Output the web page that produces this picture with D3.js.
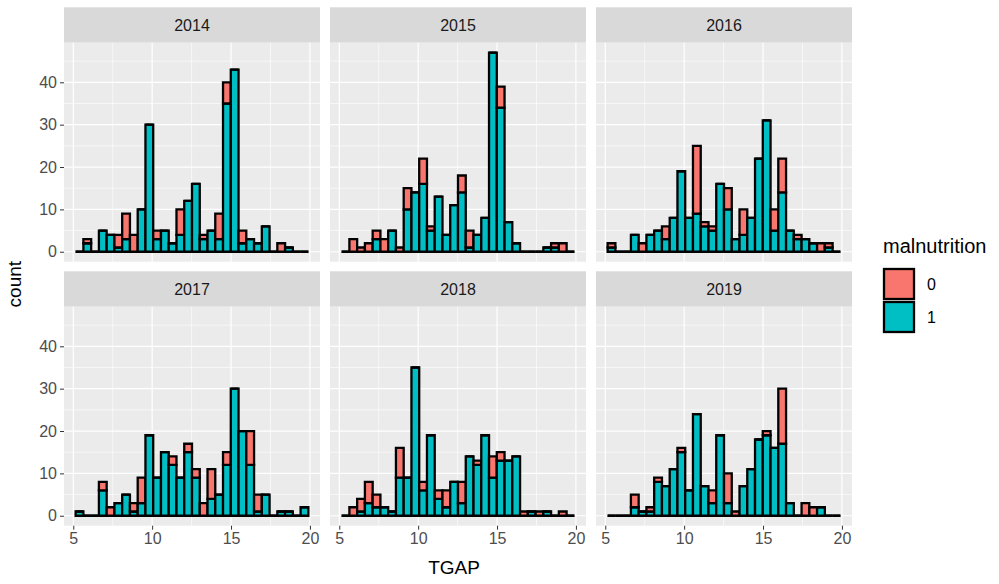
<!DOCTYPE html>
<html>
<head>
<meta charset="utf-8">
<script src="https://cdn.jsdelivr.net/npm/d3@7"></script>
<style>
    body { margin: 0; background: #fff; }
    text { font-family: "Liberation Sans", Arial, sans-serif; }
</style>
</head>
<body>
<div id="chart-container"></div>
<script>
// facet years
const years = ['2014', '2015', '2016', '2017', '2018', '2019'];

// histogram bins (30 bins, ggplot default)
const binStart = 5.15;
const binWidth = 0.4917;

// counts per bin, malnutrition = 1
const teal2014 = [0,2,0,5,4,1,3,0,10,30,3,5,2,4,12,16,3,5,3,35,43,2,3,2,6,0,0,1,0,0];
const teal2015 = [0,0,0,0,3,0,5,0,10,14,16,5,13,4,11,14,1,4,8,47,34,7,2,0,0,0,1,1,0,0];
const teal2016 = [1,0,0,4,0,4,5,3,8,19,8,9,6,5,16,10,3,4,8,22,31,5,14,5,3,3,2,0,1,0];
const teal2017 = [1,0,0,6,0,3,5,1,3,19,9,15,12,9,15,9,0,4,5,12,30,20,12,1,5,0,1,1,0,2];
const teal2018 = [0,0,1,3,2,2,1,9,9,35,6,19,4,2,8,3,14,12,19,9,13,13,14,0,1,0,1,0,0,0];
const teal2019 = [0,0,0,2,1,1,8,7,11,15,6,24,7,3,19,3,0,7,11,18,19,16,17,3,0,0,0,2,0,0];

// counts per bin, malnutrition = 0
const red2014 = [0,1,0,0,0,3,6,4,0,0,2,0,0,6,0,0,1,0,6,5,0,3,0,0,0,0,2,0,0,0];
const red2015 = [0,3,1,2,2,3,0,1,5,0,6,1,0,0,0,4,4,0,0,0,5,0,0,0,0,0,0,1,2,0];
const red2016 = [1,0,0,0,2,0,0,3,0,0,0,16,1,1,0,5,0,6,0,0,0,5,8,0,1,0,0,2,1,0];
const red2017 = [0,0,0,2,2,0,0,2,6,0,0,0,2,0,2,2,3,7,0,3,0,0,8,4,0,0,0,0,0,0];
const red2018 = [0,2,3,5,3,0,0,7,0,0,2,0,2,4,0,5,0,1,0,5,2,0,0,1,0,1,0,0,1,0];
const red2019 = [0,0,0,3,0,1,1,0,0,1,0,0,0,3,0,7,1,0,0,0,1,0,13,0,0,3,2,0,0,0];

const xTicks = [5, 10, 15, 20];
const xMinor = [7.5, 12.5, 17.5];
const yTicks = [0, 10, 20, 30, 40];
const yMinor = [5, 15, 25, 35, 45];
const legendLabels = ['0', '1'];

const tealSets = [teal2014, teal2015, teal2016, teal2017, teal2018, teal2019];
const redSets = [red2014, red2015, red2016, red2017, red2018, red2019];

const w = 999;
const h = 584;
const panelW = 256;
const panelH = 219;
const stripH = 35.4;
const colX = [64, 330, 596];
const rowY = [42.7, 306.7];
const fills = { '0': '#F8766D', '1': '#00BFC4' };
const outline = 2.3;

const svg = d3.select('#chart-container')
    .append('svg')
    .attr('width', w)
    .attr('height', h)
    .style('background-color', '#fff');

const binEnd = binStart + binWidth * 30;
const pad = (binEnd - binStart) * 0.05;
const xScale = d3.scaleLinear()
    .domain([binStart - pad, binEnd + pad])
    .range([0, panelW]);

const yScale = d3.scaleLinear()
    .domain([-2.35, 49.35])
    .range([panelH, 0]);

// rect as a path so zero-height bins still draw their outline
const boxPath = (x0, x1, lo, hi) =>
    `M${xScale(x0)},${yScale(lo)}H${xScale(x1)}V${yScale(hi)}H${xScale(x0)}Z`;

years.forEach((year, p) => {
    const col = p % 3;
    const row = Math.floor(p / 3);
    const g = svg.append('g')
        .attr('transform', `translate(${colX[col]},${rowY[row]})`);

    // strip
    g.append('rect')
        .attr('x', 0).attr('y', -stripH)
        .attr('width', panelW).attr('height', stripH)
        .attr('fill', '#D9D9D9');
    g.append('text')
        .attr('x', panelW / 2).attr('y', -stripH / 2)
        .attr('text-anchor', 'middle')
        .attr('dominant-baseline', 'central')
        .attr('font-size', 16)
        .attr('fill', '#1A1A1A')
        .text(year);

    // panel background + grid
    g.append('rect')
        .attr('width', panelW).attr('height', panelH)
        .attr('fill', '#EBEBEB');

    g.selectAll('.ymin').data(yMinor).enter().append('line')
        .attr('x1', 0).attr('x2', panelW)
        .attr('y1', d => yScale(d)).attr('y2', d => yScale(d))
        .attr('stroke', '#fff').attr('stroke-width', 0.6);
    g.selectAll('.xmin').data(xMinor).enter().append('line')
        .attr('y1', 0).attr('y2', panelH)
        .attr('x1', d => xScale(d)).attr('x2', d => xScale(d))
        .attr('stroke', '#fff').attr('stroke-width', 0.6);
    g.selectAll('.ymaj').data(yTicks).enter().append('line')
        .attr('x1', 0).attr('x2', panelW)
        .attr('y1', d => yScale(d)).attr('y2', d => yScale(d))
        .attr('stroke', '#fff').attr('stroke-width', 1.2);
    g.selectAll('.xmaj').data(xTicks).enter().append('line')
        .attr('y1', 0).attr('y2', panelH)
        .attr('x1', d => xScale(d)).attr('x2', d => xScale(d))
        .attr('stroke', '#fff').attr('stroke-width', 1.2);

    // stacked bars: 1 at bottom, 0 on top
    const bins = tealSets[p].map((t, i) => ({
        x0: binStart + i * binWidth,
        x1: binStart + (i + 1) * binWidth,
        teal: t,
        red: redSets[p][i]
    }));

    const bar = g.selectAll('.bin').data(bins).enter().append('g');
    bar.append('path')
        .attr('d', d => boxPath(d.x0, d.x1, 0, d.teal))
        .attr('fill', fills['1'])
        .attr('stroke', '#000').attr('stroke-width', outline)
        .attr('stroke-linejoin', 'miter');
    bar.append('path')
        .attr('d', d => boxPath(d.x0, d.x1, d.teal, d.teal + d.red))
        .attr('fill', fills['0'])
        .attr('stroke', '#000').attr('stroke-width', outline)
        .attr('stroke-linejoin', 'miter');

    // y axis on first column
    if (col === 0) {
        const yAxis = d3.axisLeft(yScale).tickValues(yTicks).tickSize(4).tickPadding(3);
        const ya = g.append('g').call(yAxis);
        ya.select('.domain').remove();
        ya.selectAll('line').attr('stroke', '#333');
        ya.selectAll('text').attr('font-size', 16).attr('fill', '#4D4D4D')
            .attr('font-family', '"Liberation Sans", Arial, sans-serif');
    }
    // x axis on bottom row
    if (row === 1) {
        const xAxis = d3.axisBottom(xScale).tickValues(xTicks).tickSize(4).tickPadding(3);
        const xa = g.append('g').attr('transform', `translate(0,${panelH})`).call(xAxis);
        xa.select('.domain').remove();
        xa.selectAll('line').attr('stroke', '#333');
        xa.selectAll('text').attr('font-size', 16).attr('fill', '#4D4D4D')
            .attr('font-family', '"Liberation Sans", Arial, sans-serif');
    }
});

// axis titles
svg.append('text')
    .attr('x', 454)
    .attr('y', 574)
    .attr('text-anchor', 'middle')
    .attr('font-size', 19)
    .text('TGAP');

svg.append('text')
    .attr('transform', `translate(21,${(rowY[0] + rowY[1] + panelH) / 2}) rotate(-90)`)
    .attr('text-anchor', 'middle')
    .attr('font-size', 19)
    .text('count');

// legend
const legend = svg.append('g').attr('transform', 'translate(883,0)');
legend.append('text')
    .attr('x', 0).attr('y', 253)
    .attr('font-size', 20)
    .text('malnutrition');

legend.selectAll('.key').data(legendLabels).enter().append('rect')
    .attr('x', 1).attr('y', (d, i) => 269 + i * 33)
    .attr('width', 30).attr('height', 30)
    .attr('fill', d => fills[d])
    .attr('stroke', '#000').attr('stroke-width', outline);

legend.selectAll('.lab').data(legendLabels).enter().append('text')
    .attr('x', 44).attr('y', (d, i) => 284 + i * 33)
    .attr('dominant-baseline', 'central')
    .attr('font-size', 16)
    .text(d => d);
</script>
</body>
</html>
